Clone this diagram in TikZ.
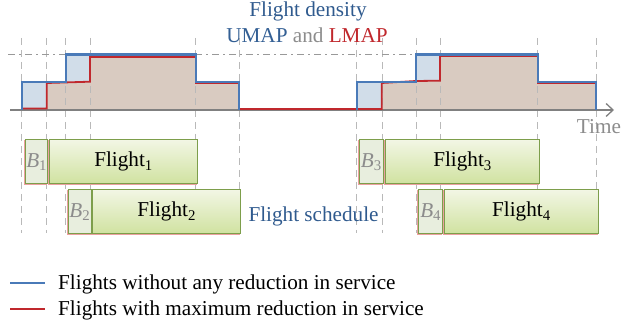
\documentclass[tikz,border=0pt]{standalone}
\usepackage{fontspec}
\setmainfont{Liberation Serif}
\usetikzlibrary{arrows.meta}
\definecolor{ublue}{RGB}{74,122,184}
\definecolor{lred}{RGB}{192,40,45}
\definecolor{brownfill}{RGB}{217,203,193}
\definecolor{bluefill}{RGB}{209,221,233}
\definecolor{dgray}{RGB}{185,185,185}
\definecolor{axgray}{RGB}{128,128,128}
\definecolor{headblue}{RGB}{47,90,142}
\definecolor{tgray}{RGB}{140,140,140}
\definecolor{gborder}{RGB}{125,158,75}
\definecolor{gtop}{RGB}{242,246,228}
\definecolor{gbot}{RGB}{208,226,160}
\definecolor{bfill}{RGB}{232,238,222}
\definecolor{pinkedge}{RGB}{235,160,160}
\tikzset{
  txt/.style={inner sep=0pt, font=\fontsize{21.2}{25}\selectfont},
  vdash/.style={draw=dgray, line width=0.9pt, dash pattern=on 7pt off 5pt},
  flightbox/.style={draw=gborder, line width=1.1pt, top color=gtop, bottom color=gbot, minimum height=44pt, inner sep=0pt, anchor=north west, font=\fontsize{21.2}{25}\selectfont},
  bbox/.style={draw=gborder, line width=1.1pt, fill=bfill, minimum height=44pt, inner sep=0pt, anchor=north west, text=tgray, font=\fontsize{21.2}{25}\selectfont},
  shadowbox/.style={draw=pinkedge, line width=0.8pt},
  legline/.style={line width=2.2pt},
}
\begin{document}
\begin{tikzpicture}[x=1pt,y=-1pt]
\useasboundingbox (0,0) rectangle (638,328);
% fills
\fill[bluefill] (22,110) -- (22,81.7) -- (66,81.7) -- (66,54.5) -- (196,54.5) -- (196,81.7) -- (239,81.7) -- (239,110) -- cycle;
\fill[bluefill] (357,110) -- (357,81.7) -- (416,81.7) -- (416,54.5) -- (538,54.5) -- (538,81.7) -- (596,81.7) -- (596,110) -- cycle;
\fill[brownfill] (46.7,110) -- (46.7,83) -- (90,81.7) -- (90,57) -- (196,57) -- (196,83) -- (239,83) -- (239,110) -- cycle;
\fill[brownfill] (381.7,110) -- (381.7,83) -- (416,81) -- (440,80.7) -- (440,56) -- (538,56) -- (538,83) -- (596,83) -- (596,110) -- cycle;
% dashed verticals
\foreach \x in {21.7,46.7,65.7,90,195.7,239,356.7,382.3,416,440,537.7,596}
  \draw[vdash] (\x,38) -- (\x,233);
% dash-dot level
\coordinate (ddl) at (8,54.5);
\coordinate (ddr) at (417,54.5);
\draw[draw=axgray!80, line width=1pt, dash pattern=on 7pt off 4pt on 2pt off 4pt] (ddl) -- (ddr);
% axis
\coordinate (axl) at (10,110);
\coordinate (axr) at (614,110);
\draw[axgray, line width=1.8pt, -{Straight Barb[length=7pt,width=13pt,line width=1.3pt]}] (axl) -- (axr);
% red step
\draw[lred, line width=1.8pt, line join=miter] (22,108.5) -- (46.7,108.5) -- (46.7,83) -- (90,81.7) -- (90,57) -- (196,57) -- (196,83) -- (239,83) -- (239,109) -- (381.7,109) -- (381.7,83) -- (416,81) -- (440,80.7) -- (440,56) -- (538,56) -- (538,83) -- (596,83) -- (596,110);
% blue step
\draw[ublue, line width=2.2pt, line join=miter] (22,110) -- (22,81.7) -- (66,81.7) -- (66,54.5) -- (196,54.5) -- (196,81.7) -- (239,81.7) -- (239,110);
\draw[ublue, line width=2.2pt, line join=miter] (357,110) -- (357,81.7) -- (416,81.7) -- (416,54.5) -- (538,54.5) -- (538,81.7) -- (596,81.7) -- (596,110);
% headings
\node[txt, text=headblue, anchor=base] (title) at (308,17) {Flight density};
\node[txt, anchor=base] (sub) at (307,43) {\textcolor{headblue!85!ublue}{UMAP} \textcolor{tgray}{and} \textcolor{lred}{LMAP}};
\node[txt, text=tgray, anchor=base west] (time) at (576.7,133.3) {Time};
\node[txt, text=headblue, anchor=base west] (sched) at (248.3,221.7) {Flight schedule};
% shadows of boxes
\foreach \a/\b/\c/\d in {25/139.3/47.3/183.3, 49.3/139.3/196.7/183.3, 67.7/189.3/90.7/233.3, 92.3/189.3/240/233.3, 359/139.3/382.7/183.3, 385/139.3/539/183.3, 418.3/189.3/442/233.3, 444/189.3/597.7/233.3}
  \draw[shadowbox] (\a-0.8,\b+0.8) rectangle (\c-0.8,\d+0.8);
% boxes
\node[bbox, minimum width=22.3pt] (b1) at (25,139.3) {\textit{B}\textsubscript{1}};
\node[flightbox, minimum width=147.4pt] (f1) at (49.3,139.3) {Flight\textsubscript{1}};
\node[bbox, minimum width=23pt] (b2) at (67.7,189.3) {\textit{B}\textsubscript{2}};
\node[flightbox, minimum width=147.7pt] (f2) at (92.3,189.3) {Flight\textsubscript{2}};
\node[bbox, minimum width=23.7pt] (b3) at (359,139.3) {\textit{B}\textsubscript{3}};
\node[flightbox, minimum width=154pt] (f3) at (385,139.3) {Flight\textsubscript{3}};
\node[bbox, minimum width=23.7pt] (b4) at (418.3,189.3) {\textit{B}\textsubscript{4}};
\node[flightbox, minimum width=153.7pt] (f4) at (444,189.3) {Flight\textsubscript{4}};
% legend
\coordinate (l1a) at (10,283.3); \coordinate (l1b) at (45,283.3);
\coordinate (l2a) at (10,309.3); \coordinate (l2b) at (45,309.3);
\draw[legline, draw=ublue] (l1a) -- (l1b);
\draw[legline, draw=lred] (l2a) -- (l2b);
\node[txt, anchor=base west] (leg1) at (58,289.3) {Flights without any reduction in service};
\node[txt, anchor=base west] (leg2) at (58,315.3) {Flights with maximum reduction in service};
\end{tikzpicture}
\end{document}
